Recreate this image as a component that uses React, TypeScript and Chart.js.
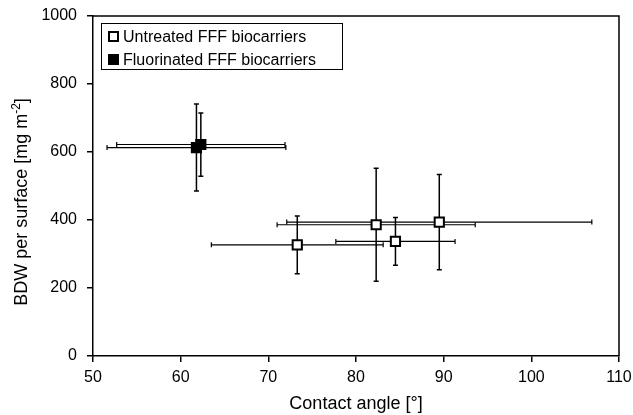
import React, { useEffect, useRef } from "react";
import { Chart, registerables } from "chart.js";

Chart.register(...registerables);

// Untreated FFF biocarriers
const untreatedAngle = [73.3, 82.3, 84.5, 89.5];
const untreatedAngleSd = [9.8, 11.3, 6.8, 17.4];
const untreatedBdw = [327, 386, 337, 394];
const untreatedBdwSd = [85, 166, 70, 140];

// Fluorinated FFF biocarriers
const fluorAngle = [61.8, 62.3];
const fluorAngleSd = [10.2, 9.6];
const fluorBdw = [613, 622];
const fluorBdwSd = [128, 93];

const legendLabels = ["Untreated FFF biocarriers", "Fluorinated FFF biocarriers"];
const xTitle = "Contact angle [°]";
const yTitleMain = "BDW per surface [mg m";
const yTitleSup = "-2";
const yTitleEnd = "]";

const FONT = '"Liberation Sans", Arial, sans-serif';

const errorSets = [
  { x: untreatedAngle, xs: untreatedAngleSd, y: untreatedBdw, ys: untreatedBdwSd },
  { x: fluorAngle, xs: fluorAngleSd, y: fluorBdw, ys: fluorBdwSd },
];

const errorBarPlugin = {
  id: "errorBars",
  beforeDatasetsDraw(chart: any) {
    const { ctx, scales } = chart;
    const xs = scales.x;
    const ys = scales.y;
    const cap = 2.5;
    ctx.save();
    ctx.strokeStyle = "#000";
    errorSets.forEach((s) => {
      s.x.forEach((xv, i) => {
        const px = xs.getPixelForValue(xv);
        const py = ys.getPixelForValue(s.y[i]);
        const x1 = xs.getPixelForValue(xv - s.xs[i]);
        const x2 = xs.getPixelForValue(xv + s.xs[i]);
        const y1 = ys.getPixelForValue(s.y[i] - s.ys[i]);
        const y2 = ys.getPixelForValue(s.y[i] + s.ys[i]);
        ctx.lineWidth = 1.2;
        ctx.beginPath();
        ctx.moveTo(x1, py);
        ctx.lineTo(x2, py);
        ctx.moveTo(x1, py - cap);
        ctx.lineTo(x1, py + cap);
        ctx.moveTo(x2, py - cap);
        ctx.lineTo(x2, py + cap);
        ctx.stroke();
        ctx.lineWidth = 1.5;
        ctx.beginPath();
        ctx.moveTo(px, y1);
        ctx.lineTo(px, y2);
        ctx.moveTo(px - cap, y1);
        ctx.lineTo(px + cap, y1);
        ctx.moveTo(px - cap, y2);
        ctx.lineTo(px + cap, y2);
        ctx.stroke();
      });
    });
    ctx.restore();
  },
};

const framePlugin = {
  id: "frameAndLegend",
  afterDraw(chart: any) {
    const { ctx, chartArea } = chart;
    ctx.save();
    // top and right border
    ctx.strokeStyle = "#000";
    ctx.lineWidth = 1.5;
    ctx.beginPath();
    ctx.moveTo(chartArea.left, chartArea.top);
    ctx.lineTo(chartArea.right, chartArea.top);
    ctx.lineTo(chartArea.right, chartArea.bottom);
    ctx.stroke();

    // legend box
    ctx.lineWidth = 1;
    ctx.strokeRect(101.5, 23.5, 241, 46);
    ctx.font = `16px ${FONT}`;
    ctx.fillStyle = "#000";
    ctx.textBaseline = "middle";
    ctx.textAlign = "left";
    const rows = [36.5, 59.5];
    ctx.lineWidth = 2;
    ctx.fillStyle = "#fff";
    ctx.fillRect(109, rows[0] - 4.5, 9, 9);
    ctx.strokeRect(109, rows[0] - 4.5, 9, 9);
    ctx.fillStyle = "#000";
    ctx.fillRect(108, rows[1] - 5.5, 11, 11);
    ctx.fillText(legendLabels[0], 123, rows[0] + 1);
    ctx.fillText(legendLabels[1], 123, rows[1] + 1);

    // y-axis title with superscript
    ctx.translate(20, 202);
    ctx.rotate(-Math.PI / 2);
    const big = `18px ${FONT}`;
    const small = `12px ${FONT}`;
    ctx.font = big;
    const w1 = ctx.measureText(yTitleMain).width;
    const w3 = ctx.measureText(yTitleEnd).width;
    ctx.font = small;
    const w2 = ctx.measureText(yTitleSup).width;
    const total = w1 + w2 + w3;
    let x = -total / 2;
    ctx.textBaseline = "alphabetic";
    ctx.font = big;
    ctx.fillText(yTitleMain, x, 6.5);
    x += w1;
    ctx.font = small;
    ctx.fillText(yTitleSup, x, -0.5);
    x += w2;
    ctx.font = big;
    ctx.fillText(yTitleEnd, x, 6.5);
    ctx.restore();
  },
};

export default function App() {
  const ref = useRef<HTMLCanvasElement | null>(null);
  useEffect(() => {
    if (!ref.current) return;
    const chart = new Chart(ref.current, {
      type: "scatter",
      data: {
        datasets: [
          {
            label: legendLabels[0],
            data: untreatedAngle.map((v, i) => ({ x: v, y: untreatedBdw[i] })),
            pointStyle: "rect",
            pointRadius: 6.5,
            pointBackgroundColor: "#fff",
            pointBorderColor: "#000",
            pointBorderWidth: 2,
          },
          {
            label: legendLabels[1],
            data: fluorAngle.map((v, i) => ({ x: v, y: fluorBdw[i] })),
            pointStyle: "rect",
            pointRadius: 6.5,
            pointBackgroundColor: "#000",
            pointBorderColor: "#000",
            pointBorderWidth: 2,
          },
        ],
      },
      options: {
        animation: false,
        responsive: false,
        devicePixelRatio: 1,
        layout: { padding: { top: 16, right: 14, left: 0, bottom: 0 } },
        plugins: {
          legend: { display: false },
          tooltip: { enabled: false },
        },
        scales: {
          x: {
            type: "linear",
            min: 50,
            max: 110,
            afterFit: (s: any) => {
              s.height = 59;
              s.paddingRight = 0;
              s.paddingLeft = 0;
            },
            ticks: {
              stepSize: 10,
              color: "#000",
              padding: 6,
              font: { size: 16, family: FONT },
              maxRotation: 0,
            },
            grid: {
              drawOnChartArea: false,
              drawTicks: true,
              tickLength: 6,
              color: "#000",
              lineWidth: 1.5,
            },
            border: { display: true, color: "#000", width: 1.5 },
            title: {
              display: true,
              text: xTitle,
              color: "#000",
              font: { size: 18, family: FONT },
              padding: { top: 0, bottom: 0 },
            },
          },
          y: {
            type: "linear",
            min: 0,
            max: 1000,
            afterFit: (s: any) => {
              s.width = 93;
              s.paddingTop = 0;
              s.paddingBottom = 0;
            },
            ticks: {
              stepSize: 200,
              color: "#000",
              padding: 10,
              font: { size: 16, family: FONT },
              callback: (v: any) => String(v),
            },
            grid: {
              drawOnChartArea: false,
              drawTicks: true,
              tickLength: 6,
              color: "#000",
              lineWidth: 1.5,
            },
            border: { display: true, color: "#000", width: 1.5 },
          },
        },
      },
      plugins: [errorBarPlugin, framePlugin],
    });
    return () => chart.destroy();
  }, []);
  return (
    <div style={{ position: "fixed", left: 0, top: 0, width: 633, height: 415, background: "#fff" }}>
      <canvas ref={ref} width={633} height={415} />
    </div>
  );
}
